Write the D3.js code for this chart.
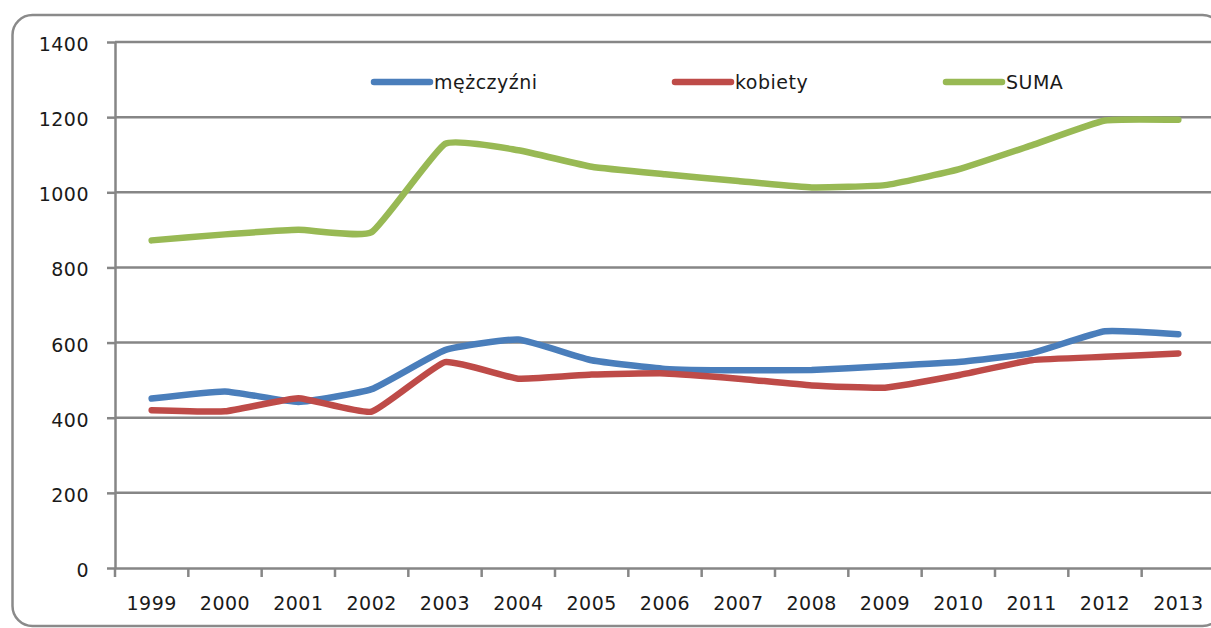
<!DOCTYPE html>
<html>
<head>
<meta charset="utf-8">
<script src="https://cdn.jsdelivr.net/npm/d3@7"></script>
<style>
  html, body { margin: 0; padding: 0; background: #fff; }
  svg { display: block; }
  text { font-family: "DejaVu Sans", sans-serif; fill: #1a1a1a; }
</style>
</head>
<body>
<svg id="chart" width="1211" height="628"></svg>
<script>
// Years on the category axis
const years = ["1999","2000","2001","2002","2003","2004","2005","2006","2007","2008","2009","2010","2011","2012","2013"];

// Series values
const mezczyzni = [451, 470, 442, 476, 580, 608, 553, 530, 526, 527, 537, 548, 572, 630, 622];
const kobiety   = [420, 417, 452, 416, 548, 504, 515, 518, 504, 486, 480, 513, 553, 562, 571];
const suma      = [872, 888, 900, 894, 1129, 1112, 1068, 1048, 1030, 1013, 1019, 1061, 1125, 1191, 1193];

// Value axis ticks
const yTicks = [0, 200, 400, 600, 800, 1000, 1200, 1400];

const seriesNames  = ["mężczyźni", "kobiety", "SUMA"];
const seriesColors = ["#4A7EBB", "#BE4B48", "#98B954"];

const series = [mezczyzni, kobiety, suma].map((vals, i) => ({
  name: seriesNames[i],
  color: seriesColors[i],
  values: vals.map((v, j) => ({ year: years[j], value: v }))
}));

const svg = d3.select("#chart");
const plot = { left: 115, right: 1215, top: 42, bottom: 568 };
const gridColor = "#868686";

// Outer rounded frame
svg.append("rect")
  .attr("x", 12.5).attr("y", 15)
  .attr("width", 1210).attr("height", 611)
  .attr("rx", 20).attr("ry", 20)
  .attr("fill", "none")
  .attr("stroke", "#8a8a8a")
  .attr("stroke-width", 2.5);

const x = d3.scaleBand().domain(years).range([plot.left, plot.right]).padding(0);
const y = d3.scaleLinear().domain([0, 1400]).range([plot.bottom, plot.top]);

// Horizontal gridlines
svg.append("g")
  .selectAll("line")
  .data(yTicks.filter(t => t > 0))
  .join("line")
  .attr("x1", plot.left).attr("x2", plot.right)
  .attr("y1", d => y(d)).attr("y2", d => y(d))
  .attr("stroke", gridColor).attr("stroke-width", 2.5);

// Value axis
const yAxis = svg.append("g")
  .attr("transform", `translate(${plot.left},0)`)
  .call(d3.axisLeft(y).tickValues(yTicks).tickFormat(d3.format("d"))
    .tickSize(8).tickPadding(18).tickSizeOuter(0));
yAxis.select(".domain").attr("stroke", gridColor).attr("stroke-width", 2.5);
yAxis.selectAll(".tick line").attr("stroke", gridColor).attr("stroke-width", 2.5);
yAxis.selectAll(".tick text")
  .attr("font-size", 19).attr("letter-spacing", 0.5)
  .attr("dy", "0.45em")
  .style("font-family", "'DejaVu Sans', sans-serif").style("fill", "#1a1a1a");

// Category axis
const xAxis = svg.append("g")
  .attr("transform", `translate(0,${plot.bottom})`)
  .call(d3.axisBottom(x).tickSize(0).tickPadding(29).tickSizeOuter(0));
xAxis.select(".domain").attr("stroke", gridColor).attr("stroke-width", 2.5);
xAxis.selectAll(".tick text")
  .attr("font-size", 19).attr("letter-spacing", 0.5)
  .style("font-family", "'DejaVu Sans', sans-serif").style("fill", "#1a1a1a");

// Tick marks between categories
const boundaries = years.map(yr => x(yr)).concat([x(years[years.length - 1]) + x.bandwidth()]);
svg.append("g")
  .selectAll("line")
  .data(boundaries)
  .join("line")
  .attr("x1", d => d).attr("x2", d => d)
  .attr("y1", plot.bottom).attr("y2", plot.bottom + 9)
  .attr("stroke", gridColor).attr("stroke-width", 2.5);

// Lightly smoothed series lines
const line = d3.line()
  .x(d => x(d.year) + x.bandwidth() / 2)
  .y(d => y(d.value))
  .curve(d3.curveCardinal.tension(0.6));

svg.append("g")
  .selectAll("path")
  .data(series)
  .join("path")
  .attr("d", d => line(d.values))
  .attr("fill", "none")
  .attr("stroke", d => d.color)
  .attr("stroke-width", 6.5)
  .attr("stroke-linecap", "round")
  .attr("stroke-linejoin", "round");

// Legend
const legendX = [374, 675, 946];
const legend = svg.append("g")
  .selectAll("g")
  .data(series)
  .join("g")
  .attr("transform", (d, i) => `translate(${legendX[i]},82)`);
legend.append("line")
  .attr("x1", 0).attr("x2", 56)
  .attr("y1", 0).attr("y2", 0)
  .attr("stroke", d => d.color)
  .attr("stroke-width", 6.5)
  .attr("stroke-linecap", "round");
legend.append("text")
  .attr("x", 60).attr("y", 0)
  .attr("dy", "0.36em")
  .attr("font-size", 19)
  .attr("letter-spacing", 0.5)
  .text(d => d.name);
</script>
</body>
</html>
